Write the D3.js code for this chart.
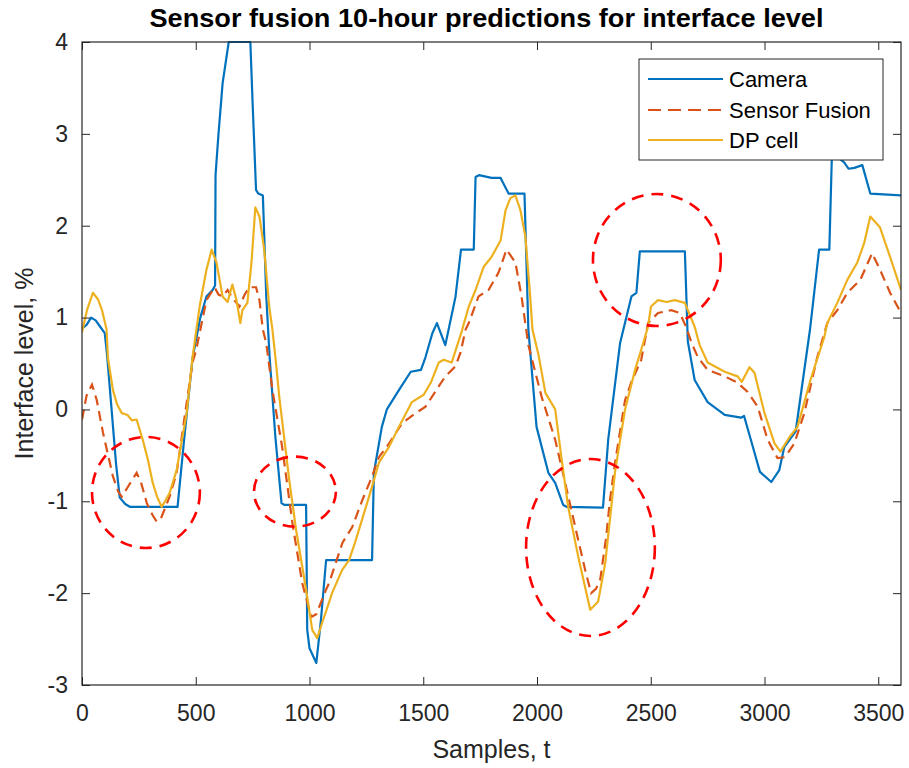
<!DOCTYPE html>
<html>
<head>
<meta charset="utf-8">
<script src="https://cdn.jsdelivr.net/npm/d3@7"></script>
<style>
  html, body { margin: 0; padding: 0; background: #fff; }
  svg { display: block; font-family: "Liberation Sans", Arial, Helvetica, sans-serif; }
</style>
</head>
<body>
<svg id="chart" width="909" height="768"></svg>
<script>
// ---------------- DATA ----------------
const chartTitle = "Sensor fusion 10-hour predictions for interface level";
const xLabel = "Samples, t";
const yLabel = "Interface level, %";
const seriesNames = ["Camera", "Sensor Fusion", "DP cell"];
const xTicks = [0, 500, 1000, 1500, 2000, 2500, 3000, 3500];
const yTicks = [-3, -2, -1, 0, 1, 2, 3, 4];

const cameraData = [[0,0.88],[20,0.92],[40,1.0],[60,0.97],[80,0.9],[100,0.83],[110,0.6],[130,0.0],[150,-0.6],[166,-0.96],[190,-1.03],[210,-1.06],[420,-1.06],[450,-0.3],[486,0.56],[520,1.0],[547,1.23],[574,1.3],[585,1.35],[587,2.55],[600,3.0],[618,3.55],[645,4.0],[740,4.0],[750,3.33],[765,2.39],[775,2.35],[795,2.33],[810,1.23],[825,0.56],[850,-0.3],[877,-1.02],[890,-1.04],[985,-1.04],[990,-2.4],[1000,-2.6],[1030,-2.76],[1050,-2.3],[1073,-1.64],[1275,-1.64],[1283,-0.69],[1318,-0.19],[1340,0.0],[1393,0.21],[1445,0.41],[1490,0.43],[1510,0.57],[1540,0.83],[1560,0.94],[1597,0.70],[1642,1.23],[1666,1.74],[1722,1.74],[1730,2.53],[1745,2.55],[1800,2.52],[1840,2.52],[1875,2.35],[1945,2.35],[1962,0.87],[1998,-0.19],[2050,-0.69],[2080,-0.8],[2115,-1.04],[2130,-1.06],[2290,-1.07],[2313,-0.33],[2365,0.72],[2415,1.23],[2437,1.27],[2452,1.72],[2650,1.72],[2663,0.74],[2693,0.32],[2750,0.08],[2825,-0.06],[2897,-0.09],[2910,-0.07],[2940,-0.33],[2980,-0.68],[3030,-0.79],[3065,-0.66],[3087,-0.41],[3137,-0.24],[3200,0.87],[3240,1.74],[3285,1.74],[3298,2.93],[3310,3.1],[3335,2.72],[3350,2.69],[3370,2.62],[3395,2.63],[3430,2.66],[3465,2.35],[3600,2.33]];

const fusionData = [[0,-0.11],[20,0.15],[44,0.27],[65,0.1],[92,-0.25],[136,-0.73],[160,-0.9],[175,-0.95],[200,-0.85],[240,-0.69],[260,-0.8],[285,-1.02],[310,-1.15],[328,-1.22],[345,-1.2],[356,-1.13],[385,-0.95],[416,-0.69],[450,-0.1],[486,0.51],[502,0.65],[547,1.19],[583,1.33],[600,1.25],[618,1.23],[640,1.3],[660,1.22],[692,1.12],[715,1.25],[736,1.33],[765,1.33],[780,1.19],[795,0.87],[810,0.72],[837,0.21],[880,-0.41],[925,-1.24],[968,-1.89],[1007,-2.26],[1030,-2.23],[1073,-1.96],[1086,-1.89],[1145,-1.45],[1188,-1.28],[1230,-1.0],[1275,-0.73],[1305,-0.52],[1350,-0.37],[1407,-0.15],[1467,-0.04],[1510,0.03],[1568,0.25],[1597,0.36],[1642,0.47],[1664,0.62],[1686,0.87],[1700,0.94],[1743,1.23],[1787,1.3],[1831,1.49],[1866,1.74],[1905,1.6],[1932,1.23],[1962,0.7],[2020,0.14],[2080,-0.33],[2124,-0.8],[2168,-1.28],[2212,-1.75],[2238,-2.0],[2260,-1.95],[2278,-1.85],[2304,-1.39],[2320,-1.0],[2343,-0.58],[2387,0.1],[2415,0.3],[2458,0.54],[2475,0.76],[2488,0.94],[2532,1.05],[2590,1.08],[2628,1.05],[2655,0.9],[2680,0.72],[2707,0.57],[2750,0.43],[2825,0.36],[2882,0.29],[2926,0.19],[2970,0.03],[3014,-0.33],[3057,-0.53],[3090,-0.52],[3131,-0.37],[3175,-0.04],[3232,0.57],[3276,0.94],[3320,1.08],[3364,1.27],[3421,1.41],[3473,1.70],[3508,1.52],[3552,1.27],[3600,1.05]];

const dpData = [[0,0.84],[22,1.08],[48,1.27],[70,1.2],[88,1.08],[108,0.87],[114,0.56],[136,0.21],[155,0.05],[175,-0.04],[200,-0.06],[220,-0.12],[240,-0.11],[267,-0.33],[290,-0.55],[311,-0.8],[330,-0.95],[350,-1.06],[365,-1.0],[385,-0.91],[416,-0.66],[460,-0.04],[486,0.57],[517,1.12],[547,1.52],[570,1.74],[591,1.6],[618,1.23],[640,1.17],[661,1.36],[679,1.19],[696,0.94],[705,1.08],[727,1.16],[745,1.6],[762,2.2],[780,2.1],[801,1.74],[823,1.12],[837,0.87],[853,0.5],[867,0.14],[911,-0.77],[941,-1.31],[985,-1.96],[1012,-2.4],[1034,-2.49],[1056,-2.32],[1086,-2.1],[1099,-2.0],[1143,-1.75],[1174,-1.64],[1200,-1.45],[1231,-1.2],[1275,-0.84],[1305,-0.58],[1349,-0.41],[1393,-0.19],[1450,0.08],[1502,0.16],[1533,0.29],[1568,0.51],[1590,0.54],[1625,0.51],[1669,0.85],[1700,1.12],[1730,1.3],[1765,1.55],[1800,1.66],[1840,1.84],[1862,2.17],[1883,2.30],[1905,2.33],[1927,2.17],[1949,1.88],[1970,1.23],[1980,0.87],[2006,0.6],[2037,0.18],[2080,0.0],[2107,-0.52],[2137,-1.06],[2181,-1.6],[2234,-2.18],[2269,-2.09],[2300,-1.67],[2343,-0.68],[2387,0.0],[2431,0.43],[2458,0.65],[2488,0.9],[2501,1.12],[2532,1.19],[2570,1.17],[2606,1.19],[2650,1.16],[2693,0.9],[2715,0.7],[2750,0.51],[2825,0.41],[2882,0.36],[2900,0.3],[2934,0.46],[2956,0.4],[3000,-0.04],[3044,-0.37],[3070,-0.46],[3110,-0.3],[3145,-0.19],[3202,0.32],[3263,0.79],[3276,0.94],[3320,1.16],[3364,1.41],[3408,1.6],[3438,1.81],[3465,2.1],[3508,1.98],[3552,1.66],[3600,1.3]];

// annotation ellipses: [centre t, centre level, radius t, radius level]
const circleMarks = [[281,-0.904,237,0.604],[936,-0.895,180,0.381],[2235,-1.503,283,0.963],[2527,1.627,281,0.718]];

// ---------------- LAYOUT ----------------
const svg = d3.select("#chart");
const pL = 82, pR = 901, pT = 42, pB = 685;
const x = d3.scaleLinear().domain([0, 3600]).range([pL, pR]);
const y = d3.scaleLinear().domain([-3, 4]).range([pB, pT]);
const axisColor = "#262626";
const colors = ["#0072BD", "#D95319", "#EDB120"];
const fmt = d => String(d);

svg.append("rect").attr("x", pL).attr("y", pT).attr("width", pR-pL).attr("height", pB-pT).attr("fill", "#fff");

svg.append("clipPath").attr("id", "clip").append("rect")
  .attr("x", pL).attr("y", pT-2).attr("width", pR-pL).attr("height", pB-pT+4);
const line = d3.line().x(d => x(d[0])).y(d => y(d[1]));
const g = svg.append("g").attr("clip-path", "url(#clip)");
g.append("path").datum(cameraData).attr("d", line).attr("fill", "none").attr("stroke", colors[0]).attr("stroke-width", 2.2).attr("stroke-linejoin", "round");
g.append("path").datum(fusionData).attr("d", line).attr("fill", "none").attr("stroke", colors[1]).attr("stroke-width", 2.2).attr("stroke-dasharray", "10,6");
g.append("path").datum(dpData).attr("d", line).attr("fill", "none").attr("stroke", colors[2]).attr("stroke-width", 2.2).attr("stroke-linejoin", "round");

svg.append("g").selectAll("ellipse").data(circleMarks).join("ellipse")
  .attr("cx", d => x(d[0])).attr("cy", d => y(d[1]))
  .attr("rx", d => x(d[2]) - x(0)).attr("ry", d => y(0) - y(d[3]))
  .attr("fill", "none").attr("stroke", "#FF0000").attr("stroke-width", 2.6).attr("stroke-dasharray", "12,8");

function styleAxis(sel) {
  sel.select(".domain").remove();
  sel.selectAll(".tick line").attr("stroke", axisColor).attr("stroke-width", 1);
  sel.selectAll(".tick text").attr("fill", axisColor).attr("font-size", 23)
    .attr("font-family", "'Liberation Sans', Arial, sans-serif");
}
svg.append("g").attr("transform", `translate(0,${pB})`)
  .call(d3.axisBottom(x).tickValues(xTicks).tickSizeInner(-8).tickSizeOuter(0).tickPadding(20).tickFormat(fmt))
  .call(styleAxis);
svg.append("g").attr("transform", `translate(0,${pT})`)
  .call(d3.axisTop(x).tickValues(xTicks).tickSizeInner(-8).tickSizeOuter(0).tickFormat(""))
  .call(styleAxis);
svg.append("g").attr("transform", `translate(${pL},0)`)
  .call(d3.axisLeft(y).tickValues(yTicks).tickSizeInner(-8).tickSizeOuter(0).tickPadding(14).tickFormat(fmt))
  .call(styleAxis);
svg.append("g").attr("transform", `translate(${pR},0)`)
  .call(d3.axisRight(y).tickValues(yTicks).tickSizeInner(-8).tickSizeOuter(0).tickFormat(""))
  .call(styleAxis);

svg.append("rect").attr("x", pL).attr("y", pT).attr("width", pR-pL).attr("height", pB-pT)
  .attr("fill", "none").attr("stroke", axisColor).attr("stroke-width", 1.2);

svg.append("text").attr("x", (pL+pR)/2 - 5).attr("y", 27).attr("text-anchor", "middle")
  .attr("font-size", 25).attr("font-weight", "bold").attr("fill", "#000")
  .attr("textLength", 674).attr("lengthAdjust", "spacingAndGlyphs").text(chartTitle);
svg.append("text").attr("x", (pL+pR)/2).attr("y", 758).attr("text-anchor", "middle")
  .attr("font-size", 25).attr("fill", axisColor).text(xLabel);
svg.append("text").attr("transform", `translate(33,${(pT+pB)/2}) rotate(-90)`).attr("text-anchor", "middle")
  .attr("font-size", 25).attr("fill", axisColor).text(yLabel);

const lg = svg.append("g");
lg.append("rect").attr("x", 639).attr("y", 59).attr("width", 244).attr("height", 101)
  .attr("fill", "#fff").attr("stroke", axisColor).attr("stroke-width", 1);
const rows = [79, 110, 140];
seriesNames.forEach((name, i) => {
  const l = lg.append("line").attr("x1", 648).attr("x2", 723).attr("y1", rows[i]).attr("y2", rows[i])
    .attr("stroke", colors[i]).attr("stroke-width", 2.2);
  if (i === 1) l.attr("stroke-dasharray", "13,7");
  lg.append("text").attr("x", 729).attr("y", rows[i]).attr("dy", "0.36em")
    .attr("font-size", 22).attr("fill", "#000").text(name);
});
</script>
</body>
</html>
